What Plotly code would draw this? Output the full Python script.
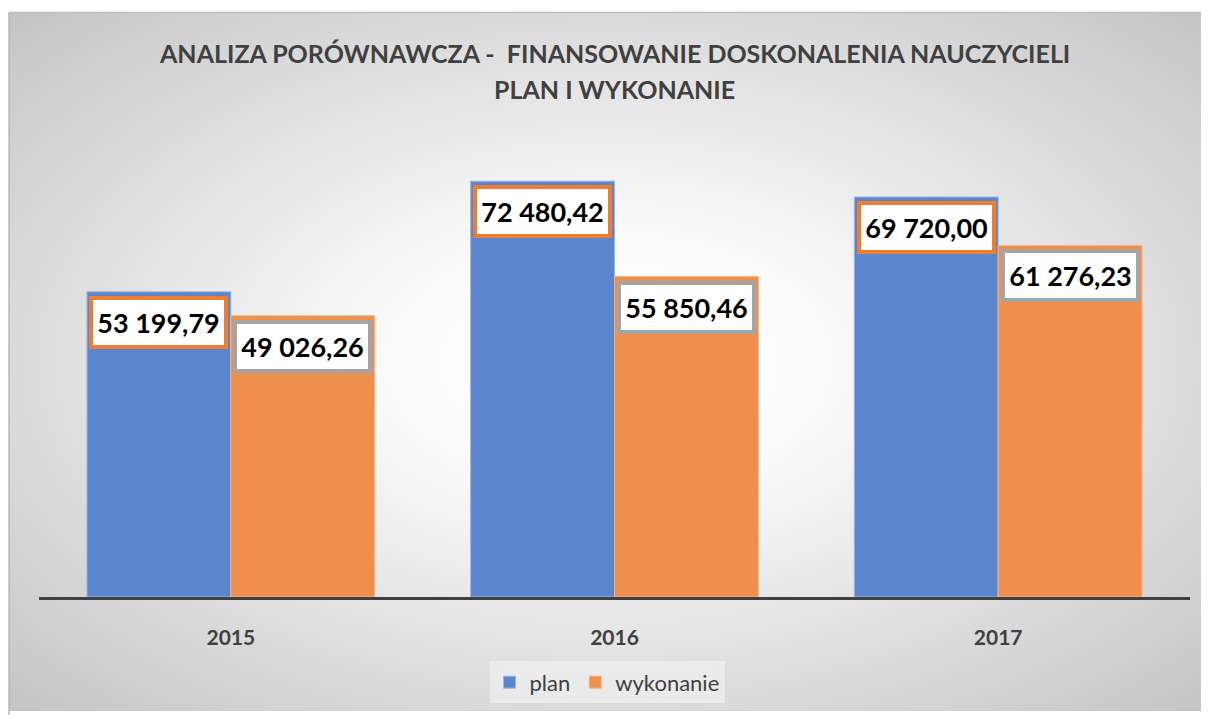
import base64
import plotly.graph_objects as go

categories = ["2015", "2016", "2017"]
plan = [53199.79, 72480.42, 69720.00]
wykonanie = [49026.26, 55850.46, 61276.23]
series_names = ["plan", "wykonanie"]
title_line1 = "ANALIZA PORÓWNAWCZA -  FINANSOWANIE DOSKONALENIA NAUCZYCIELI"
title_line2 = "PLAN I WYKONANIE"

# page body has an 8px margin: figure pixel = screen pixel - 8
OFF = 8
W, H = 1209 - 2 * OFF, 715 - OFF
L, T = 39 - OFF, 137.5 - OFF
R = W - (1190 - OFF)
B = H - (600 - OFF)
pw, ph = W - L - R, H - T - B


def fmt_pl(v):
    s = f"{v:,.2f}"
    return s.replace(",", " ").replace(".", ",")


def px_to_paper_x(px):  # px in screen coordinates
    return (px - OFF - L) / pw


def px_to_paper_y(py):
    return (H - B - (py - OFF)) / ph


BLUE = "#5B86CD"
ORANGE = "#EE8F4E"
TXT = "#404040"

fig = go.Figure()
fig.add_trace(go.Bar(x=categories, y=plan, name=series_names[0],
                     marker=dict(color=BLUE, line=dict(color="#9cb6e3", width=1))))
fig.add_trace(go.Bar(x=categories, y=wykonanie, name=series_names[1],
                     marker=dict(color=ORANGE, line=dict(color="#f5b68a", width=1))))

# radial gradient background as svg image
svg = (
    "<svg xmlns='http://www.w3.org/2000/svg' width='1200' height='704' viewBox='0 0 1200 704' preserveAspectRatio='none'>"
    "<defs><radialGradient id='g' cx='0.5' cy='0.5' r='0.72'>"
    "<stop offset='0' stop-color='#ffffff'/><stop offset='0.25' stop-color='#fbfbfb'/>"
    "<stop offset='1' stop-color='#c3c3c3'/></radialGradient></defs>"
    "<rect x='0' y='0' width='1200' height='704' fill='url(#g)'/></svg>"
)
src = "data:image/svg+xml;base64," + base64.b64encode(svg.encode()).decode()
box_x0, box_y0 = 9, 11
fig.add_layout_image(dict(source=src, xref="paper", yref="paper",
                          x=px_to_paper_x(box_x0), y=px_to_paper_y(box_y0),
                          sizex=(1209 - box_x0) / pw, sizey=(715 - box_y0) / ph,
                          xanchor="left", yanchor="top", sizing="stretch",
                          layer="below"))

shapes = [
    dict(type="line", xref="paper", yref="paper",
         x0=px_to_paper_x(box_x0), x1=px_to_paper_x(1215),
         y0=px_to_paper_y(box_y0), y1=px_to_paper_y(box_y0),
         line=dict(color="#bdbdbd", width=1.5)),
    dict(type="line", xref="paper", yref="paper",
         x0=px_to_paper_x(box_x0), x1=px_to_paper_x(box_x0),
         y0=px_to_paper_y(box_y0), y1=px_to_paper_y(720),
         line=dict(color="#b8b8b8", width=1.5)),
]

annotations = []
for vals, shift, bcol in [(plan, -72, "#ED7D31"), (wykonanie, 72, "#A5A5A5")]:
    for i, v in enumerate(vals):
        annotations.append(dict(
            x=i, y=v, xref="x", yref="y", xshift=shift, yshift=-4,
            yanchor="top", xanchor="center", showarrow=False,
            text=f"<b>{fmt_pl(v)}</b>",
            font=dict(family="Lato", size=27, color="#000000"),
            bgcolor="#ffffff", bordercolor=bcol, borderwidth=4, borderpad=2,
            width=127, height=41, align="center", valign="middle"))

annotations.append(dict(x=px_to_paper_x(614), y=px_to_paper_y(52), xref="paper", yref="paper",
                        text=f"<b>{title_line1}</b>", showarrow=False,
                        font=dict(family="Lato", size=25, color=TXT),
                        xanchor="center", yanchor="middle"))
annotations.append(dict(x=px_to_paper_x(614), y=px_to_paper_y(88), xref="paper", yref="paper",
                        text=f"<b>{title_line2}</b>", showarrow=False,
                        font=dict(family="Lato", size=25, color=TXT),
                        xanchor="center", yanchor="middle"))

fig.update_layout(
    width=W, height=H,
    margin=dict(l=L, r=R, t=T, b=B, pad=0),
    paper_bgcolor="#ffffff",
    plot_bgcolor="rgba(0,0,0,0)",
    barmode="group", bargap=0.25, bargroupgap=0,
    showlegend=True,
    legend=dict(orientation="h", x=px_to_paper_x(607), xanchor="center",
                y=px_to_paper_y(686), yanchor="middle",
                font=dict(family="Lato", size=22, color=TXT),
                bgcolor="rgba(250,250,250,0.45)", itemwidth=30),
    shapes=shapes,
    annotations=annotations,
    xaxis=dict(type="category", range=[-0.5, len(categories) - 0.5],
               showline=True, linecolor="#404040", linewidth=3, ticks="",
               tickfont=dict(family="Lato", size=21, color=TXT),
               ticklabelstandoff=20, showgrid=False, zeroline=False,
               tickvals=categories, ticktext=[f"<b>{c}</b>" for c in categories],
               fixedrange=True),
    yaxis=dict(range=[0, 80000], visible=False, showgrid=False, zeroline=False),
)

fig.write_html("out.html")
